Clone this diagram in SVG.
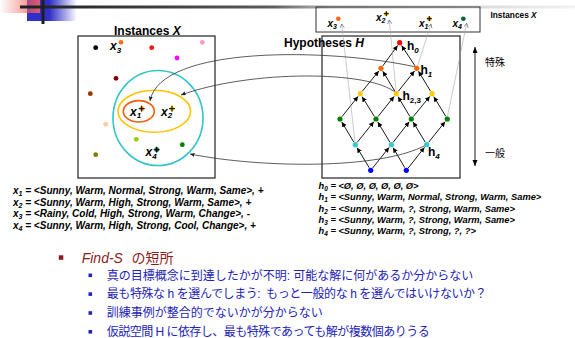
<svg xmlns="http://www.w3.org/2000/svg" width="575" height="338" viewBox="0 0 575 338">
<style>
.t{font-family:"Liberation Sans",Arial,sans-serif}
.j{font-family:"Liberation Sans","Noto Sans CJK JP",sans-serif}
.bi{font-weight:bold;font-style:italic}
.b{font-weight:bold}
.e{stroke:#000;stroke-width:0.9;fill:none;marker-end:url(#ah)}
.g{stroke:#a8a8a8;stroke-width:0.6;fill:none;marker-end:url(#oh)}
.c{fill:none;stroke:#333;stroke-width:0.8;marker-end:url(#ah2)}
.box{fill:none;stroke:#333;stroke-width:1.3}
.pl{stroke:#000;stroke-width:1}
.sb{fill:#2323b8}
.st{fill:#2323b8;font-size:12px}
</style>
<defs>
<linearGradient id="gbar" x1="20" y1="0" x2="575" y2="0" gradientUnits="userSpaceOnUse">
<stop offset="0" stop-color="#1e1e1e"/><stop offset="0.45" stop-color="#5a5a5a"/><stop offset="0.56" stop-color="#b8b8b8"/><stop offset="1" stop-color="#f2f2f2"/>
</linearGradient>
<linearGradient id="gblue" x1="0" y1="0" x2="1" y2="0">
<stop offset="0" stop-color="#3030c8"/><stop offset="0.45" stop-color="#3030c8"/><stop offset="1" stop-color="#3030c8" stop-opacity="0"/>
</linearGradient>
<linearGradient id="gpink" x1="0" y1="0" x2="1" y2="0">
<stop offset="0" stop-color="#f26060" stop-opacity="0"/><stop offset="1" stop-color="#f26060" stop-opacity="0.9"/>
</linearGradient>
<marker id="ah" markerUnits="userSpaceOnUse" markerWidth="6" markerHeight="6" refX="5" refY="2.5" orient="auto"><path d="M0,0 L5,2.5 L0,5 z" fill="#000"/></marker>
<marker id="ah2" markerUnits="userSpaceOnUse" markerWidth="6" markerHeight="6" refX="4.5" refY="2" orient="auto"><path d="M0,0 L4.5,2 L0,4 z" fill="#222"/></marker>
<marker id="oh" markerUnits="userSpaceOnUse" markerWidth="6" markerHeight="6" refX="4" refY="2.2" orient="auto"><path d="M0,0 L4,2.2 L0,4.4" fill="none" stroke="#666" stroke-width="0.7"/></marker>
<marker id="da" markerUnits="userSpaceOnUse" markerWidth="8" markerHeight="8" refX="6" refY="2.5" orient="auto-start-reverse"><path d="M0,0 L6,2.5 L0,5 z" fill="#000"/></marker>
</defs>

<g id="decor">
<rect x="27" y="0" width="50" height="21" fill="url(#gblue)"/>
<rect x="0" y="0" width="40" height="13" fill="url(#gpink)"/>
<rect x="20" y="5.5" width="555" height="3" fill="url(#gbar)"/>
<rect x="41.5" y="0" width="3" height="24" fill="#1e1e1e"/>
</g>

<g id="instances-box">
<rect class="box" x="78" y="36" width="137" height="142"/>
<text class="t b" x="114" y="35" font-size="12">Instances <tspan font-style="italic">X</tspan></text>
<ellipse cx="158" cy="118" rx="45" ry="47.5" fill="none" stroke="#33c4c8" stroke-width="1.6"/>
<ellipse cx="154.3" cy="111.3" rx="36.3" ry="21" fill="none" stroke="#ffc400" stroke-width="1.6"/>
<ellipse cx="138.8" cy="111.3" rx="15.5" ry="10.7" fill="none" stroke="#f06010" stroke-width="1.6"/>
<circle cx="95.7" cy="47.7" r="2.4" fill="#000"/>
<circle cx="121" cy="42.3" r="2.4" fill="#f07020"/>
<circle cx="151.7" cy="47.7" r="2.4" fill="#ff1010"/>
<circle cx="202.3" cy="42.3" r="2.4" fill="#ff99cc"/>
<circle cx="177" cy="58" r="2.4" fill="#ff00ff"/>
<circle cx="116" cy="78.3" r="2.4" fill="#800000"/>
<circle cx="90.3" cy="93.7" r="2.4" fill="#993300"/>
<circle cx="105.7" cy="124.3" r="2.4" fill="#ffcc99"/>
<circle cx="136.3" cy="139.3" r="2.4" fill="#99cc00"/>
<circle cx="182.3" cy="144.7" r="2.4" fill="#008000"/>
<circle cx="95.7" cy="154.7" r="2.4" fill="#808000"/>
<circle cx="141.7" cy="108.7" r="2.4" fill="#ff9900"/>
<path class="pl" d="M138.7,108.7 h6 M141.7,105.7 v6"/>
<circle cx="172" cy="108.7" r="2.4" fill="#ffcc00"/>
<path class="pl" d="M169,108.7 h6 M172,105.7 v6"/>
<circle cx="156.7" cy="149.7" r="2.4" fill="#006633"/>
<path class="pl" d="M153.7,149.7 h6 M156.7,146.7 v6"/>
<text class="t bi" x="110" y="50" font-size="12">x<tspan font-size="8" dy="2.5">3</tspan></text>
<text class="t bi" x="130" y="115.5" font-size="12">x<tspan font-size="8" dy="2.5">1</tspan></text>
<text class="t bi" x="161" y="115.5" font-size="12">x<tspan font-size="8" dy="2.5">2</tspan></text>
<text class="t bi" x="145.5" y="156" font-size="12">x<tspan font-size="8" dy="2.5">4</tspan></text>
</g>

<g id="top-instances">
<rect x="316" y="7" width="164" height="25" fill="none" stroke="#333" stroke-width="1"/>
<circle cx="338.3" cy="18.7" r="2.3" fill="#ff6600"/>
<circle cx="386.3" cy="13.7" r="2.3" fill="#ffcc00"/>
<path class="pl" d="M383.8,13.7 h5 M386.3,11.2 v5"/>
<circle cx="429.3" cy="18.7" r="2.3" fill="#ff9900"/>
<path class="pl" d="M426.8,18.7 h5 M429.3,16.2 v5"/>
<circle cx="463.3" cy="18.7" r="2.3" fill="#006633"/>
<text class="t bi" x="327.5" y="26.5" font-size="10">x<tspan font-size="7" dy="2">3</tspan></text>
<text class="t bi" x="376" y="20.5" font-size="10">x<tspan font-size="7" dy="2">2</tspan></text>
<text class="t bi" x="419" y="26.5" font-size="10">x<tspan font-size="7" dy="2">1</tspan></text>
<text class="t bi" x="452.5" y="26.5" font-size="10">x<tspan font-size="7" dy="2">4</tspan></text>
<text class="t b" x="490.5" y="18" font-size="8.3">Instances <tspan font-style="italic">X</tspan></text>
</g>

<g id="hypotheses-box">
<rect class="box" x="322" y="36" width="138" height="142"/>
<text class="t b" x="284" y="47" font-size="12">Hypotheses <tspan font-style="italic">H</tspan></text>
</g>

<g id="connectors">
<path class="e" d="M369.2,167.7 L357.1,147.7"/>
<path class="e" d="M372.6,168 L389.1,147.4"/>
<path class="e" d="M404.8,167.7 L393.1,147.7"/>
<path class="e" d="M408.2,168 L424.5,147.4"/>
<path class="e" d="M353.8,142.1 L341.8,122"/>
<path class="e" d="M357.2,142.4 L373.8,121.7"/>
<path class="e" d="M389.8,142.1 L377.8,122"/>
<path class="e" d="M393.1,142.3 L409.2,121.8"/>
<path class="e" d="M425.2,142.1 L413.1,122"/>
<path class="e" d="M428.6,142.3 L445.1,121.7"/>
<path class="e" d="M341.9,116.7 L358.1,96.4"/>
<path class="e" d="M374.4,116.5 L362.1,96.7"/>
<path class="e" d="M377.9,116.7 L394.1,96.4"/>
<path class="e" d="M409.8,116.4 L398.1,96.7"/>
<path class="e" d="M413.2,116.7 L429.8,96.4"/>
<path class="e" d="M445.8,116.4 L433.8,96.7"/>
<path class="e" d="M362.2,91.4 L378.8,71"/>
<path class="e" d="M394.8,91.1 L382.8,71.3"/>
<path class="e" d="M398.2,91.4 L414.5,71"/>
<path class="e" d="M430.5,91.1 L418.5,71.3"/>
<path class="e" d="M382.8,65.9 L397.6,45.5"/>
<path class="e" d="M415,65.8 L401.6,45.6"/>
<path class="g" d="M355,142 L341.7,24"/>
<path class="g" d="M396,91 L389.3,20"/>
<path class="g" d="M417.5,66 L431,24"/>
<path class="g" d="M447.5,116.5 L466.7,23.3"/>
<path class="c" d="M416,67 C330,48 160,45 150,101"/>
<path class="c" d="M396,93 C370,70 250,70 181,95"/>
<path class="c" d="M426,145 C380,170 260,168 190,154"/>
<path d="M475,47 L475,166" stroke="#000" stroke-width="0.9" marker-start="url(#da)" marker-end="url(#da)"/>
</g>

<g id="lattice">
<circle cx="399.7" cy="42.7" r="2.6" fill="#ff0000"/>
<circle cx="381" cy="68.3" r="2.6" fill="#ff6600"/>
<circle cx="416.7" cy="68.3" r="2.6" fill="#ff6600"/>
<circle cx="360.3" cy="93.7" r="2.6" fill="#ffcc00"/>
<circle cx="396.3" cy="93.7" r="2.6" fill="#ffcc00"/>
<circle cx="432" cy="93.7" r="2.6" fill="#ffcc00"/>
<circle cx="340" cy="119" r="2.6" fill="#008000"/>
<circle cx="376" cy="119" r="2.6" fill="#008000"/>
<circle cx="411.3" cy="119" r="2.6" fill="#008000"/>
<circle cx="447.3" cy="119" r="2.6" fill="#008000"/>
<circle cx="355.3" cy="144.7" r="2.6" fill="#33cccc"/>
<circle cx="391.3" cy="144.7" r="2.6" fill="#33cccc"/>
<circle cx="426.7" cy="144.7" r="2.6" fill="#33cccc"/>
<circle cx="370.7" cy="170.3" r="2.6" fill="#0000ff"/>
<circle cx="406.3" cy="170.3" r="2.6" fill="#0000ff"/>
<text class="t b" x="407" y="50" font-size="12">h<tspan font-size="8" font-style="italic" dy="2.5">0</tspan></text>
<text class="t b" x="420.5" y="74" font-size="12">h<tspan font-size="8" font-style="italic" dy="2.5">1</tspan></text>
<text class="t b" x="402.5" y="100" font-size="12">h<tspan font-size="8" dy="2.5">2,3</tspan></text>
<text class="t b" x="428" y="156" font-size="12">h<tspan font-size="8" font-style="italic" dy="2.5">4</tspan></text>
</g>

<g id="scale-labels">
<text class="j" x="485" y="66" font-size="10">特殊</text>
<text class="j" x="485" y="157" font-size="10">一般</text>
</g>

<g id="x-list" class="t bi" font-size="10">
<text x="13" y="194">x<tspan font-size="7" dy="2">1</tspan><tspan dy="-2"> = &lt;Sunny, Warm, Normal, Strong, Warm, Same&gt;, +</tspan></text>
<text x="13" y="205.5">x<tspan font-size="7" dy="2">2</tspan><tspan dy="-2"> = &lt;Sunny, Warm, High, Strong, Warm, Same&gt;, +</tspan></text>
<text x="13" y="217">x<tspan font-size="7" dy="2">3</tspan><tspan dy="-2"> = &lt;Rainy, Cold, High, Strong, Warm, Change&gt;, -</tspan></text>
<text x="13" y="228.5">x<tspan font-size="7" dy="2">4</tspan><tspan dy="-2"> = &lt;Sunny, Warm, High, Strong, Cool, Change&gt;, +</tspan></text>
</g>

<g id="h-list" class="t bi" font-size="9.3">
<text x="318.5" y="189">h<tspan font-size="6.5" dy="2">0</tspan><tspan dy="-2"> = &lt;Ø, Ø, Ø, Ø, Ø, Ø&gt;</tspan></text>
<text x="318.5" y="200.3">h<tspan font-size="6.5" dy="2">1</tspan><tspan dy="-2"> = &lt;Sunny, Warm, Normal, Strong, Warm, Same&gt;</tspan></text>
<text x="318.5" y="211.6">h<tspan font-size="6.5" dy="2">2</tspan><tspan dy="-2"> = &lt;Sunny, Warm, ?, Strong, Warm, Same&gt;</tspan></text>
<text x="318.5" y="222.9">h<tspan font-size="6.5" dy="2">3</tspan><tspan dy="-2"> = &lt;Sunny, Warm, ?, Strong, Warm, Same&gt;</tspan></text>
<text x="318.5" y="234.2">h<tspan font-size="6.5" dy="2">4</tspan><tspan dy="-2"> = &lt;Sunny, Warm, ?, Strong, ?, ?&gt;</tspan></text>
</g>

<g id="bullets">
<rect x="58.8" y="255.3" width="4.5" height="4.5" fill="#8b1c1c"/>
<text class="j" x="81.7" y="263" font-size="14" fill="#8b1c1c"><tspan font-style="italic">Find-S</tspan><tspan x="131.5">の短所</tspan></text>
<rect class="sb" x="88.5" y="273.5" width="3.6" height="3.6"/>
<rect class="sb" x="88.5" y="292.3" width="3.6" height="3.6"/>
<rect class="sb" x="88.5" y="311.2" width="3.6" height="3.6"/>
<rect class="sb" x="88.5" y="330" width="3.6" height="3.6"/>
<text class="j st" x="106.7" y="279.5">真の目標概念に到達したかが不明: 可能な解に何があるか分からない</text>
<text class="j st" x="106.7" y="298.3" xml:space="preserve" textLength="380" lengthAdjust="spacing">最も特殊な h を選んでしまう:  もっと一般的な h を選んではいけないか？</text>
<text class="j st" x="106.7" y="317.2">訓練事例が整合的でないかが分からない</text>
<text class="j st" x="106.7" y="336" textLength="323" lengthAdjust="spacing">仮説空間 H に依存し、最も特殊であっても解が複数個ありうる</text>
</g>
</svg>
